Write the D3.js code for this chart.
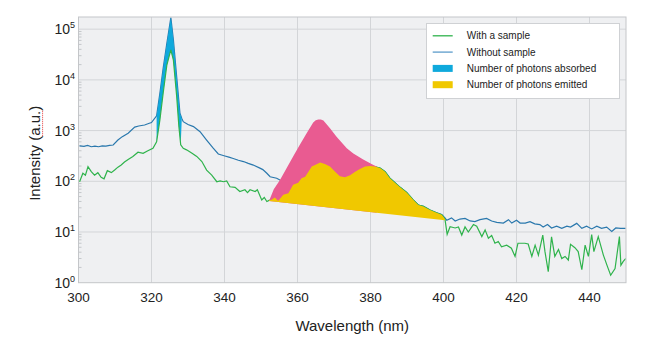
<!DOCTYPE html>
<html>
<head>
<meta charset="utf-8">
<script src="https://cdn.jsdelivr.net/npm/d3@7/dist/d3.min.js"></script>
<style>
  body { margin: 0; background: #fff; }
  text { font-family: "Liberation Sans", Arial, sans-serif; fill: #222; }
</style>
</head>
<body>
<svg id="chart" width="665" height="343"></svg>
<script>
// Spectrum with a sample (green)
const withNm = [
  300.3, 301.2, 301.9, 302.6, 303.5, 304.4, 305.3, 306.2, 307.0, 307.9, 309.0, 309.9,
  310.8, 311.7, 312.6, 313.6, 314.9, 316.3, 317.7, 319.0, 320.4, 321.4, 322.3, 323.2,
  324.2, 325.3, 326.0, 326.9, 327.5, 328.0, 328.7, 329.6, 331.0, 332.4, 333.8, 335.1,
  336.5, 337.9, 338.8, 339.7, 340.6, 341.5, 342.9, 344.2, 345.6, 346.3, 347.0, 348.4,
  349.0, 350.2, 350.9, 351.6, 352.2, 352.9, 353.8, 354.7, 356.1, 357.5, 358.8, 360.2,
  361.1, 362.1, 363.0, 363.9, 364.8, 366.2, 367.5, 368.9, 370.3, 371.6, 373.0, 374.4,
  375.8, 377.1, 378.5, 379.9, 381.2, 382.6, 384.0, 385.3, 386.7, 388.1, 389.9, 391.7,
  393.1, 394.5, 396.3, 398.1, 399.5, 400.4, 401.0, 401.8, 403.2, 404.1, 405.0, 405.9,
  406.8, 408.2, 409.1, 410.5, 411.4, 412.3, 413.2, 414.1, 415.0, 415.9, 417.3, 418.6,
  419.6, 420.4, 422.3, 423.2, 424.2, 425.1, 426.0, 427.2, 427.8, 428.7, 429.6, 430.5,
  431.5, 432.4, 433.3, 434.2, 434.8, 436.0, 436.9, 437.9, 438.8, 439.7, 440.6, 441.2,
  442.4, 443.8, 444.9, 445.8, 447.0, 448.2, 448.6, 449.2, 449.9
];
const withVal = [
  98, 144, 132, 195, 155, 132, 148, 120, 112, 162, 148, 167,
  190, 210, 240, 270, 308, 375, 355, 400, 447, 600, 1620, 5500,
  19500, 38900, 24500, 4700, 1200, 525, 447, 417, 363, 309, 245, 166,
  132, 98, 102, 98, 102, 78, 76, 63, 68, 60, 68, 63,
  68, 43, 48, 40, 42, 43, 48, 41, 54, 58, 85, 94,
  115, 123, 155, 195, 209, 234, 219, 195, 155, 126, 120, 132,
  155, 174, 195, 200, 195, 182, 155, 115, 94, 76, 60, 43,
  34, 32, 27, 24, 22, 18, 9, 12.7, 12, 12.6, 8.7, 12.6,
  10, 14, 13, 8.1, 11, 7.5, 8.5, 6, 6.5, 5.1, 5.5, 4.8,
  3.3, 6, 6, 5.8, 3.3, 5.5, 3.5, 8.7, 4.1, 1.65, 8, 3.3,
  4.5, 3.0, 3.3, 2.8, 5.7, 4.9, 4.1, 1.8, 5.5, 3.3, 8.9, 4.1,
  8.1, 3.5, 2.1, 1.4, 1.9, 8.1, 2.2, 2.6, 3
];

// Spectrum without sample (blue)
const withoutNm = [
  300.3, 301.5, 302.5, 303.5, 304.5, 305.5, 306.5, 307.5, 308.5, 309.5, 310.8, 312.0,
  313.6, 315.4, 316.5, 318.1, 319.2, 320.0, 321.4, 322.3, 323.2, 324.2, 325.3, 326.0,
  326.9, 327.8, 328.3, 328.7, 330.0, 331.5, 333.3, 335.1, 336.9, 338.3, 340.1, 341.2,
  342.4, 343.8, 345.2, 346.5, 347.9, 349.7, 350.5, 351.6, 352.5, 354.3, 355.3, 358.8,
  364.0, 370.0, 376.0, 381.2, 382.6, 384.0, 385.3, 386.7, 388.1, 389.9, 391.7, 393.1,
  394.5, 396.3, 398.1, 399.5, 400.4, 400.9, 402.2, 403.2, 404.5, 405.9, 407.3, 408.6,
  410.0, 411.8, 413.2, 414.6, 416.4, 417.8, 418.7, 420.0, 421.0, 422.4, 423.7, 425.0,
  426.4, 427.3, 428.5, 429.6, 431.0, 432.4, 433.8, 434.8, 436.5, 437.9, 439.2, 440.6,
  442.0, 443.3, 444.7, 446.1, 447.2, 448.5, 449.9
];
const withoutVal = [
  500, 490, 510, 480, 495, 480, 500, 495, 510, 520, 650, 760,
  890, 1170, 1230, 1290, 1380, 1440, 1950, 5500, 17000, 52500, 170000, 61700,
  11500, 2190, 1740, 1500, 1320, 1200, 950, 650, 450, 345, 316, 300,
  282, 260, 245, 225, 209, 182, 170, 144, 123, 115, 105, 80,
  150, 150, 150, 190, 182, 155, 115, 94, 76, 60, 43, 34,
  32, 27, 24, 22, 19, 17, 19, 16.5, 18, 18.5, 16.5, 16,
  17.5, 18.5, 16.5, 15.5, 15, 17.5, 15, 17, 15, 15, 16, 14.5,
  14, 12.5, 14, 12, 13, 11.8, 13, 12.5, 14.8, 11.8, 13, 11.5,
  13, 11.8, 12.5, 10.3, 12, 11.8, 11.8
];

// Pink emission band (upper edge) and its closing edge
const pinkNm = [352.2, 353.5, 355.2, 357.0, 358.8, 360.6, 362.5, 364.3, 365.0, 365.7, 366.4, 367.1,
  368.9, 370.7, 373.5, 375.3, 378.0, 380.8, 381.7];
const pinkVal = [41, 70, 106, 180, 307, 520, 890, 1440, 1600, 1660, 1650, 1580,
  1110, 760, 447, 355, 270, 209, 195];
const pinkBaseNm = [381.7, 352.2];
const pinkBaseVal = [24, 41];

// Straight baseline under the emitted photons
const baseNm = [352.2, 400.4];
const baseVal = [41, 17];

// Ranges of the filled areas
const absorbedRange = [321.4, 328.3];
const emittedRange = [352.2, 400.4];

const xTicks = [300, 320, 340, 360, 380, 400, 420, 440];
const yTicks = [1, 10, 100, 1000, 10000, 100000];
const yExponents = ["0", "1", "2", "3", "4", "5"];

const legendLabels = ["With a sample", "Without sample", "Number of photons absorbed", "Number of photons emitted"];

// Colours
const green = "#2fb34c";
const blue = "#2a78ad";
const cyan = "#0fa9dc";
const yellow = "#f0c800";
const pink = "#e95b91";

// Layout
const plot = { left: 78.5, right: 626, top: 17, bottom: 282.7 };

const svg = d3.select("#chart");

const x = d3.scaleLinear().domain([300, 450]).range([plot.left, plot.right]);
const y = d3.scaleLog().domain([1, Math.pow(10, 5.24)]).range([plot.bottom, plot.top]);

// Plot background
svg.append("rect")
  .attr("x", plot.left).attr("y", plot.top)
  .attr("width", plot.right - plot.left).attr("height", plot.bottom - plot.top)
  .attr("fill", "#eff0f2");

svg.append("clipPath").attr("id", "clip")
  .append("rect")
  .attr("x", plot.left).attr("y", plot.top)
  .attr("width", plot.right - plot.left).attr("height", plot.bottom - plot.top);

// Grid
const grid = svg.append("g").attr("stroke", "#d3d5d8").attr("stroke-width", 1);
grid.selectAll("line.vx").data(xTicks.slice(1)).join("line")
  .attr("x1", (d) => x(d)).attr("x2", (d) => x(d))
  .attr("y1", plot.top).attr("y2", plot.bottom);
grid.selectAll("line.hy").data(yTicks.slice(1)).join("line")
  .attr("x1", plot.left).attr("x2", plot.right)
  .attr("y1", (d) => y(d)).attr("y2", (d) => y(d));

// Minor y ticks inside the left edge
const minor = [];
yTicks.slice(0, -1).forEach((t) => {
  for (let k = 2; k <= 9; k++) minor.push(t * k);
});
svg.append("g").attr("stroke", "#b9bcc0").attr("stroke-width", 0.8)
  .selectAll("line").data(minor.filter((v) => y(v) >= plot.top)).join("line")
  .attr("x1", plot.left).attr("x2", plot.left + 3)
  .attr("y1", (d) => y(d)).attr("y2", (d) => y(d));

const line = d3.line().x((d) => x(d[0])).y((d) => y(d[1]));

const withPts = d3.zip(withNm, withVal);
const withoutPts = d3.zip(withoutNm, withoutVal);
const inRange = (r) => (p) => p[0] >= r[0] && p[0] <= r[1];

const g = svg.append("g").attr("clip-path", "url(#clip)");

// Without sample line
g.append("path").attr("d", line(withoutPts))
  .attr("fill", "none").attr("stroke", blue).attr("stroke-width", 1.2);

// Absorbed photons: between the two spectra around the excitation peak
const absorbed = withoutPts.filter(inRange(absorbedRange))
  .concat(withPts.filter(inRange(absorbedRange)).reverse());
g.append("path").attr("d", line(absorbed) + "Z").attr("fill", cyan);

// With sample line
g.append("path").attr("d", line(withPts))
  .attr("fill", "none").attr("stroke", green).attr("stroke-width", 1.2);

// Pink band
const pinkPoly = d3.zip(pinkNm, pinkVal).concat(d3.zip(pinkBaseNm, pinkBaseVal));
g.append("path").attr("d", line(pinkPoly) + "Z").attr("fill", pink);

// Emitted photons
const emitted = withPts.filter(inRange(emittedRange))
  .concat(d3.zip(baseNm, baseVal).reverse());
g.append("path").attr("d", line(emitted) + "Z").attr("fill", yellow);

// Frame
svg.append("rect")
  .attr("x", plot.left).attr("y", plot.top)
  .attr("width", plot.right - plot.left).attr("height", plot.bottom - plot.top)
  .attr("fill", "none").attr("stroke", "#c4c6c9").attr("stroke-width", 1);

// X tick labels
svg.append("g").selectAll("text").data(xTicks).join("text")
  .attr("x", (d) => x(d)).attr("y", 301.5)
  .attr("text-anchor", "middle").attr("font-size", 13.5)
  .text((d) => d);

// Y tick labels with exponents
const yl = svg.append("g").selectAll("text").data(yTicks).join("text")
  .attr("x", 71).attr("y", (d) => y(d) + 5)
  .attr("text-anchor", "end").attr("font-size", 14);
yl.append("tspan").text("10");
yl.append("tspan").attr("font-size", 9).attr("dy", -6).text((d, i) => yExponents[i]);

// Superscript sits after "10": shift the whole label so the exponent ends near the axis
yl.attr("x", 75);

// Axis titles
svg.append("text")
  .attr("x", (plot.left + plot.right) / 2).attr("y", 331)
  .attr("text-anchor", "middle").attr("font-size", 15)
  .text("Wavelength (nm)");

const yTitleG = svg.append("g").attr("transform", "translate(39.6,153.3) rotate(-90)");
const yTitle = yTitleG.append("text")
  .attr("x", 0).attr("y", 0)
  .attr("text-anchor", "middle").attr("font-size", 15)
  .text("Intensity (a.u.)");

// Red dotted spell-check underline under "a.u."
const node = yTitle.node();
const total = node.getComputedTextLength();
const start = -total / 2 + node.getSubStringLength(0, 11);
const len = node.getSubStringLength(11, 4);
yTitleG.append("line")
  .attr("x1", start).attr("x2", start + len)
  .attr("y1", 3).attr("y2", 3)
  .attr("stroke", "#e03a3a").attr("stroke-width", 1)
  .attr("stroke-dasharray", "1,1");

// Legend
const legend = svg.append("g");
legend.append("rect")
  .attr("x", 426.5).attr("y", 23.5).attr("width", 193).attr("height", 75)
  .attr("fill", "#fff").attr("stroke", "#cfd1d4");

const legendKinds = ["line", "line", "rect", "rect"];
const legendColors = [green, "#5d9ccb", cyan, yellow];
const rowY = (i) => 35.8 + i * 16.3;

legendLabels.forEach((label, i) => {
  if (legendKinds[i] === "line") {
    legend.append("line")
      .attr("x1", 432.7).attr("x2", 452.7)
      .attr("y1", rowY(i)).attr("y2", rowY(i))
      .attr("stroke", legendColors[i]).attr("stroke-width", 1.3);
  } else {
    legend.append("rect")
      .attr("x", 432.7).attr("y", rowY(i) - 3.5)
      .attr("width", 20).attr("height", 7)
      .attr("fill", legendColors[i]);
  }
  legend.append("text")
    .attr("x", 466.7).attr("y", rowY(i) + 3.5)
    .attr("font-size", 10)
    .text(label);
});
</script>
</body>
</html>
